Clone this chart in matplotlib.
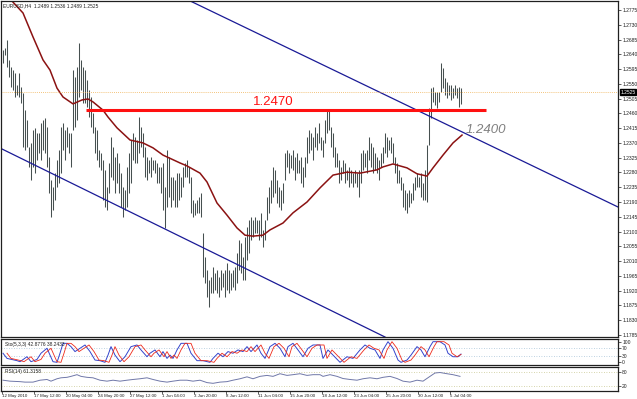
import numpy as np
import matplotlib
matplotlib.use('Agg')
import matplotlib.pyplot as plt

plt.rcParams['font.family'] = ['Liberation Sans', 'DejaVu Sans']

# EURUSD H4 bars (high / low), one value per bar
highs = [
	1.2653, 1.2659, 1.2684, 1.2623, 1.2601, 1.2592, 1.2583, 1.2546, 1.2583, 1.2540,
	1.2522, 1.2470, 1.2440, 1.2358, 1.2370, 1.2409, 1.2416, 1.2400, 1.2400, 1.2431,
	1.2440, 1.2446, 1.2419, 1.2327, 1.2257, 1.2236, 1.2278, 1.2318, 1.2348, 1.2419,
	1.2431, 1.2409, 1.2419, 1.2400, 1.2400, 1.2592, 1.2571, 1.2601, 1.2674, 1.2623,
	1.2601, 1.2592, 1.2562, 1.2531, 1.2510, 1.2461, 1.2419, 1.2409, 1.2348, 1.2339,
	1.2318, 1.2288, 1.2236, 1.2309, 1.2388, 1.2358, 1.2327, 1.2339, 1.2309, 1.2278,
	1.2236, 1.2227, 1.2297, 1.2339, 1.2379, 1.2400, 1.2388, 1.2379, 1.2449, 1.2419,
	1.2400, 1.2358, 1.2327, 1.2318, 1.2327, 1.2318, 1.2318, 1.2309, 1.2297, 1.2297,
	1.2309, 1.2236, 1.2348, 1.2327, 1.2266, 1.2266, 1.2257, 1.2278, 1.2278, 1.2266,
	1.2297, 1.2309, 1.2318, 1.2297, 1.2266, 1.2196, 1.2187, 1.2196, 1.2205, 1.2217,
	1.2096, 1.2022, 1.1983, 1.1952, 1.1962, 1.1992, 1.1974, 1.1983, 1.1962, 1.1983,
	1.1974, 1.1983, 1.2004, 1.1983, 1.1974, 1.1983, 1.1992, 1.2035, 1.2074, 1.2065,
	1.2022, 1.2083, 1.2114, 1.2135, 1.2144, 1.2135, 1.2144, 1.2135, 1.2135, 1.2157,
	1.2105, 1.2135, 1.2205, 1.2236, 1.2257, 1.2297, 1.2288, 1.2257, 1.2236, 1.2227,
	1.2248, 1.2339, 1.2348, 1.2339, 1.2333, 1.2348, 1.2327, 1.2339, 1.2318, 1.2327,
	1.2297, 1.2327, 1.2388, 1.2409, 1.2400, 1.2388, 1.2419, 1.2400, 1.2431, 1.2388,
	1.2379, 1.2440, 1.2470, 1.2470, 1.2419, 1.2400, 1.2358, 1.2339, 1.2318, 1.2297,
	1.2318, 1.2309, 1.2288, 1.2297, 1.2288, 1.2278, 1.2288, 1.2278, 1.2288, 1.2339,
	1.2348, 1.2339, 1.2348, 1.2388, 1.2370, 1.2358, 1.2339, 1.2327, 1.2318, 1.2339,
	1.2358, 1.2400, 1.2388, 1.2379, 1.2388, 1.2370, 1.2327, 1.2309, 1.2288, 1.2266,
	1.2248, 1.2227, 1.2217, 1.2227, 1.2217, 1.2248, 1.2266, 1.2278, 1.2266, 1.2278,
	1.2248, 1.2288, 1.2364, 1.2476, 1.2537, 1.2540, 1.2525, 1.2525, 1.2525, 1.2614,
	1.2598, 1.2568, 1.2556, 1.2546, 1.2546, 1.2537, 1.2546, 1.2537, 1.2540, 1.2536]

lows = [
	1.2614, 1.2638, 1.2601, 1.2571, 1.2540, 1.2531, 1.2510, 1.2516, 1.2510, 1.2492,
	1.2358, 1.2348, 1.2358, 1.2297, 1.2257, 1.2297, 1.2278, 1.2318, 1.2339, 1.2318,
	1.2348, 1.2339, 1.2297, 1.2217, 1.2144, 1.2166, 1.2196, 1.2236, 1.2248, 1.2278,
	1.2348, 1.2318, 1.2358, 1.2339, 1.2297, 1.2409, 1.2419, 1.2440, 1.2510, 1.2531,
	1.2492, 1.2492, 1.2480, 1.2449, 1.2419, 1.2400, 1.2339, 1.2318, 1.2297, 1.2288,
	1.2196, 1.2175, 1.2166, 1.2217, 1.2266, 1.2257, 1.2217, 1.2248, 1.2217, 1.2175,
	1.2144, 1.2166, 1.2175, 1.2217, 1.2248, 1.2318, 1.2309, 1.2309, 1.2339, 1.2358,
	1.2327, 1.2266, 1.2257, 1.2278, 1.2266, 1.2288, 1.2278, 1.2248, 1.2248, 1.2217,
	1.2166, 1.2111, 1.2175, 1.2205, 1.2175, 1.2196, 1.2175, 1.2175, 1.2196, 1.2205,
	1.2236, 1.2266, 1.2266, 1.2248, 1.2157, 1.2144, 1.2150, 1.2157, 1.2157, 1.2144,
	1.1962, 1.1943, 1.1901, 1.1870, 1.1913, 1.1913, 1.1922, 1.1913, 1.1901, 1.1922,
	1.1931, 1.1901, 1.1922, 1.1913, 1.1922, 1.1931, 1.1922, 1.1943, 1.1983, 1.1974,
	1.1952, 1.1952, 1.2013, 1.2035, 1.2074, 1.2083, 1.2096, 1.2096, 1.2074, 1.2083,
	1.2053, 1.2074, 1.2135, 1.2157, 1.2187, 1.2205, 1.2217, 1.2187, 1.2175, 1.2166,
	1.2187, 1.2257, 1.2297, 1.2278, 1.2294, 1.2288, 1.2257, 1.2278, 1.2278, 1.2248,
	1.2236, 1.2266, 1.2309, 1.2339, 1.2348, 1.2318, 1.2358, 1.2348, 1.2370, 1.2348,
	1.2327, 1.2370, 1.2400, 1.2409, 1.2358, 1.2327, 1.2297, 1.2297, 1.2248, 1.2257,
	1.2278, 1.2248, 1.2257, 1.2236, 1.2248, 1.2236, 1.2248, 1.2236, 1.2205, 1.2248,
	1.2288, 1.2297, 1.2278, 1.2318, 1.2297, 1.2278, 1.2288, 1.2278, 1.2257, 1.2297,
	1.2309, 1.2339, 1.2327, 1.2348, 1.2339, 1.2309, 1.2278, 1.2248, 1.2248, 1.2227,
	1.2175, 1.2166, 1.2157, 1.2175, 1.2187, 1.2196, 1.2227, 1.2236, 1.2236, 1.2205,
	1.2196, 1.2196, 1.2190, 1.2364, 1.2446, 1.2495, 1.2486, 1.2476, 1.2495, 1.2525,
	1.2537, 1.2516, 1.2507, 1.2516, 1.2501, 1.2507, 1.2516, 1.2507, 1.2480, 1.2489]

# moving average, read at points along the curve (bar index, price)
ma_x = [4, 5, 10, 15, 20, 23.5, 27, 30, 35, 39.5, 42.5, 45, 50, 52.5, 57, 63.5, 70, 75, 80,
	88.5, 92, 98.5, 102, 107, 112, 117, 121, 125, 130, 133.5, 140, 145, 152, 158.5, 165,
	172, 178.5, 187, 190, 195, 202, 207, 212, 215, 220, 225, 229.5]
ma_y = [1.2806, 1.2799, 1.2766, 1.2693, 1.2623, 1.2592, 1.2537, 1.2510, 1.2489, 1.2501,
	1.2504, 1.2495, 1.2470, 1.2449, 1.2416, 1.2379, 1.2370, 1.2355, 1.2333, 1.2309,
	1.2300, 1.2278, 1.2251, 1.2187, 1.2150, 1.2111, 1.2089, 1.2086, 1.2089, 1.2105,
	1.2126, 1.2157, 1.2190, 1.2233, 1.2272, 1.2281, 1.2278, 1.2288, 1.2297, 1.2306,
	1.2294, 1.2276, 1.2269, 1.2294, 1.2333, 1.2370, 1.2394]

# channel lines: two anchor points each (bar index, price)
upper_line = [(198.5, 1.24947), (307.5, 1.21748)]
lower_line = [(-1.5, 1.23545), (191.0, 1.17787)]
level_price = 1.2470
level_from, level_to = 41.5, 241.5
last_price = 1.2525

# Stochastic (5,3,3)
sto_x = [0, 2, 7, 8.5, 12, 14, 17, 19, 22, 23.5, 25, 27, 28.5, 30, 32, 34, 36, 38.5, 41, 43.5,
	46, 48.5, 51, 52.5, 54, 56, 58.5, 61, 64, 67, 69, 72, 73.5, 76, 78.5, 80, 82, 83.5, 85, 87,
	89, 92, 94, 97, 100, 103.5, 105, 107.5, 110, 112.5, 115, 117.5, 120, 122, 124, 127, 129,
	131, 133.5, 136, 138.5, 141, 142.5, 145, 147.5, 150, 152.5, 155, 158.5, 160, 162.5, 165,
	168.5, 172, 175, 178.5, 181, 183.5, 186, 188.5, 190, 192.5, 195, 197.5, 199, 202, 204,
	207, 209, 211, 213.5, 215, 218.5, 221, 222.5, 225, 227.5, 229]
sto_main = [44, 19, 8, 3, 27, 3, 14, 44, 68, 35, 3, 0, 44, 92, 92, 76, 52, 68, 84, 52,
	11, 8, 0, 35, 76, 35, 3, 27, 76, 84, 60, 27, 44, 60, 27, 52, 19, 35, 19, 60,
	92, 92, 44, 8, 8, 0, 19, 44, 27, 52, 44, 60, 52, 76, 52, 84, 44, 19, 76, 92,
	68, 27, 76, 92, 60, 27, 68, 84, 84, 19, 60, 35, 0, 27, 19, 60, 84, 68, 60, 19,
	60, 100, 68, 11, 0, 11, 35, 76, 60, 27, 76, 100, 100, 84, 44, 27, 27, 40]
sig_x = [2, 4, 9, 10.5, 14, 16, 19, 21, 24, 25.5, 27, 29, 30.5, 32, 34, 36, 38, 40.5, 43, 45.5,
	48, 50.5, 53, 54.5, 56, 58, 60.5, 63, 66, 69, 71, 74, 75.5, 78, 80.5, 82, 84, 85.5, 87, 89,
	91, 94, 96, 99, 102, 105.5, 107, 109.5, 112, 114.5, 117, 119.5, 122, 124, 126, 129, 131,
	133, 135.5, 138, 140.5, 143, 144.5, 147, 149.5, 152, 154.5, 157, 160.5, 162, 164.5, 167,
	170.5, 174, 177, 180.5, 183, 185.5, 188, 190.5, 192, 194.5, 197, 199.5, 201, 204, 206,
	209, 211, 213, 215.5, 217, 220.5, 223, 224.5, 227, 229]
sig_val = [44, 19, 8, 3, 27, 3, 14, 44, 68, 35, 3, 0, 44, 92, 92, 76, 52, 68, 84, 52,
	11, 8, 0, 35, 76, 35, 3, 27, 76, 84, 60, 27, 44, 60, 27, 52, 19, 35, 19, 60,
	92, 92, 44, 8, 8, 0, 19, 44, 27, 52, 44, 60, 52, 76, 52, 84, 44, 19, 76, 92,
	68, 27, 76, 92, 60, 27, 68, 84, 84, 19, 60, 35, 0, 27, 19, 60, 84, 68, 60, 19,
	60, 100, 68, 11, 0, 11, 35, 76, 60, 27, 76, 100, 100, 84, 44, 27, 38]

# RSI(14)
rsi_x = [0, 3.5, 8.5, 11, 15, 18.5, 22, 24, 27, 29, 32, 34, 37, 39, 42, 45, 48.5, 52, 55, 58.5,
	62, 65, 68.5, 72, 75, 78.5, 82, 85, 88.5, 92, 95, 98.5, 102, 105, 108.5, 112, 115, 118.5,
	122, 125, 128.5, 132, 135, 138.5, 142, 145, 148.5, 152, 155, 158.5, 160, 163.5, 167, 170,
	173.5, 177, 180, 183.5, 187, 190, 193.5, 197, 200, 203.5, 207, 210, 213.5, 216, 218.5,
	222, 225, 228.5]
rsi_val = [45, 41, 39, 37, 37, 45, 48, 41, 51, 55, 57, 61, 68, 61, 57, 55, 45, 41, 45, 41,
	45, 48, 51, 55, 48, 41, 37, 41, 45, 45, 41, 45, 35, 32, 37, 39, 45, 51, 59, 51,
	61, 65, 61, 72, 65, 68, 72, 65, 68, 68, 61, 68, 61, 52, 48, 45, 51, 55, 51, 57,
	61, 52, 41, 37, 45, 41, 61, 75, 77, 72, 68, 61]

date_labels = ['12 May 2010', '17 May 12:00', '20 May 04:00', '24 May 20:00', '27 May 12:00',
	'1 Jun 04:00', '3 Jun 20:00', '8 Jun 12:00', '11 Jun 04:00', '15 Jun 20:00',
	'18 Jun 12:00', '23 Jun 04:00', '25 Jun 20:00', '30 Jun 12:00', '5 Jul 04:00']
date_pos = [-0.5, 15.5, 31.5, 47.5, 63.5, 79.5, 95.5, 111.5, 127.5, 143.5,
	159.5, 175.5, 191.5, 207.5, 223.5]


W, H = 637.0, 399.0
XMIN, XMAX = -1.0, 307.5


def panel(fig, top, bottom):
	ax = fig.add_axes([1/W, 1-bottom/H, 617/W, (bottom-top)/H])
	ax.set_xlim(XMIN, XMAX)
	ax.set_facecolor('white')
	for s in ax.spines.values():
		s.set_color('#202020')
		s.set_linewidth(0.9)
	ax.yaxis.tick_right()
	ax.tick_params(axis='y', length=2, width=0.5, pad=1, labelsize=3.6, colors='#202020')
	ax.tick_params(axis='x', bottom=False, labelbottom=False)
	return ax


fig = plt.figure(figsize=(W/100, H/100), dpi=100, facecolor='white')

# ---- main price panel
ax = panel(fig, 1, 337)
ax.set_ylim(1.17787, 1.28025)
yt = [round(1.1785 + 0.0045*k, 4) for k in range(23)]
ax.set_yticks(yt)
ax.set_yticklabels(['%.4f' % v for v in yt])

idx = np.arange(len(highs))
ax.vlines(idx, lows, highs, color='#465050', linewidth=0.75)
ax.plot(ma_x, ma_y, color='#8b1212', linewidth=1.1)

for (x0, y0), (x1, y1) in [upper_line, lower_line]:
	ax.axline((x0, y0), (x1, y1), color='#1a1a96', linewidth=0.9)

ax.axhline(last_price, color='#f0b050', linewidth=0.6, linestyle=(0, (1, 1.5)))
ax.hlines(level_price, level_from, level_to, color='#ff1010', linewidth=2.2)
ax.text(125, 1.2495, '1.2470', color='#ff1010', fontsize=9.5, ha='left', va='center')
ax.text(231.5, 1.2409, '1.2400', color='#808080', fontsize=9.5, style='italic',
	ha='left', va='center')

ax.text(0.004, 0.993, 'EURUSD,H4  1.2489 1.2536 1.2489 1.2525', transform=ax.transAxes,
	fontsize=3.5, va='top', ha='left', color='#202020')
ax.text(1.004, last_price, '%.4f' % last_price, transform=ax.get_yaxis_transform(),
	fontsize=3.6, color='white', va='center', ha='left',
	bbox=dict(facecolor='black', edgecolor='black', pad=0.6))

# ---- stochastic panel
ax_s = panel(fig, 339, 365)
ax_s.set_ylim(-13, 113)
ax_s.set_yticks([0, 30, 70, 100])
for lv in [30, 70]:
	ax_s.axhline(lv, color='#a8c4d8', linewidth=0.6, linestyle=(0, (1, 2)))
ax_s.plot(sto_x, sto_main, color='#3344cc', linewidth=0.7)
ax_s.plot(sig_x, sig_val, color='#ee2a1a', linewidth=0.6)
ax_s.text(0.006, 0.9, 'Sto(5,3,3) 42.8776 38.2433', transform=ax_s.transAxes,
	fontsize=3.5, va='top', ha='left', color='#202020')

# ---- RSI panel
ax_r = panel(fig, 367, 391)
ax_r.set_ylim(0, 100)
ax_r.set_yticks([20, 80])
for lv in [20, 80]:
	ax_r.axhline(lv, color='#c8c890', linewidth=0.6, linestyle=(0, (1, 2)))
ax_r.plot(rsi_x, rsi_val, color='#7078a8', linewidth=0.7)
ax_r.text(0.006, 0.93, 'RSI(14) 61.3158', transform=ax_r.transAxes,
	fontsize=3.5, va='top', ha='left', color='#202020')

ax_r.set_xticks(date_pos)
ax_r.set_xticklabels(date_labels)
ax_r.tick_params(axis='x', bottom=True, labelbottom=True, length=2, width=0.5, pad=0.5,
	labelsize=3.2, colors='#202020')
for t in ax_r.get_xticklabels():
	t.set_horizontalalignment('left')

fig.savefig('out.png', dpi=100, facecolor='white')
